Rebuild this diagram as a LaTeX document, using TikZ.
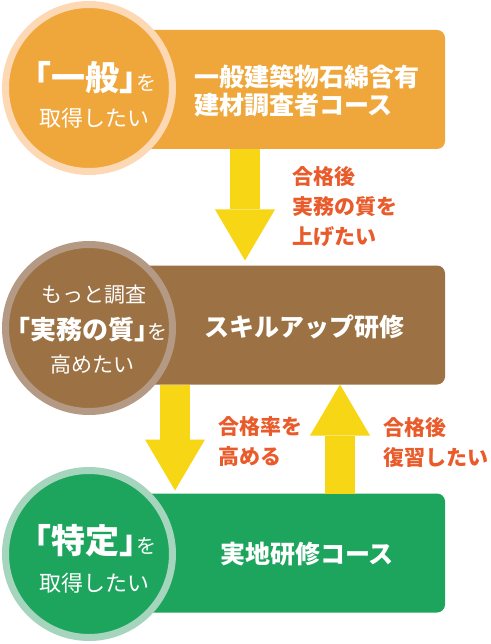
\documentclass[tikz,border=0pt]{standalone}
\usepackage{fontspec}
\setmainfont{Noto Sans CJK JP}
\usetikzlibrary{arrows.meta}
\definecolor{org}{HTML}{EFA73C}
\definecolor{peach}{HTML}{FDD8B5}
\definecolor{brn}{HTML}{9C7143}
\definecolor{brnring}{HTML}{B49A85}
\definecolor{grn}{HTML}{1DA55E}
\definecolor{grnring}{HTML}{A5D5BD}
\definecolor{yel}{HTML}{F7D615}
\definecolor{otxt}{HTML}{E95B2A}
\newcommand\bigjp[2]{{\fontsize{#1}{#1}\selectfont\bfseries\addfontfeatures{RawFeature=+halt}#2}}
\newcommand\wo{{\fontsize{20}{20}\selectfont を}}
\begin{document}
\begin{tikzpicture}[x=1pt,y=-1pt,
  box/.style={rounded corners=8pt, minimum width=315pt, minimum height=119pt, inner sep=0pt, outer sep=0pt},
  ring/.style={circle, minimum size=167pt, inner sep=0pt, outer sep=0pt, line width=7pt},
  bigarrow/.style={draw=yel, line width=30pt, -{Triangle[width=60pt,length=51pt,line width=0pt]}},
  btext/.style={text=white, font=\fontsize{25}{28.5}\selectfont\bfseries, align=left, inner sep=0pt},
  otext/.style={text=otxt, font=\fontsize{21}{30}\selectfont\bfseries, align=left, inner sep=0pt, anchor=west},
  ctext/.style={text=white, inner sep=0pt}]
\useasboundingbox (0,0) rectangle (490,644);
% boxes
\node[box, fill=org] (b1) at (287.5,89.5) {};
\node[box, fill=brn] (b2) at (287.5,325) {};
\node[box, fill=grn] (b3) at (287.5,553) {};
\node[btext, anchor=west] (t1) at (194,91) {一般建築物石綿含有\\建材調査者コース};
\node[btext] (t2) at (304,327) {スキルアップ研修};
\node[btext] (t3) at (307,554) {実地研修コース};
% arrows
\draw[bigarrow, shorten >=5pt] (b1.south -| 245,0) -- (b2.north -| 245,0);
\draw[bigarrow, shorten >=3pt] (b2.south -| 175,0) -- (b3.north -| 175,0);
\draw[bigarrow] (b3.north -| 340,0) -- (b2.south -| 340,0);
\node[otext] (o1) at (292,207) {合格後\\実務の質を\\上げたい};
\node[otext] (o2) at (218,442) {合格率を\\高める};
\node[otext] (o3) at (383,442) {合格後\\復習したい};
% circles
\node[ring, fill=org, draw=peach] (c1) at (89,88) {};
\node[ring, fill=brn, draw=brnring] (c2) at (89,328) {};
\node[ring, fill=grn, draw=grnring] (c3) at (89,554) {};
\node[ctext] (c1a) at (95,78) {\bigjp{34}{「一般」}\wo};
\node[ctext, font=\fontsize{22}{22}\selectfont] (c1b) at (94,118) {取得したい};
\node[ctext, font=\fontsize{21}{21}\selectfont] (c2a) at (93.5,295) {もっと調査};
\node[ctext] (c2b) at (92.5,330) {\bigjp{26}{「実務の質」}\wo};
\node[ctext, font=\fontsize{21}{21}\selectfont] (c2c) at (92.5,365) {高めたい};
\node[ctext] (c3a) at (95,541) {\bigjp{34}{「特定」}\wo};
\node[ctext, font=\fontsize{22}{22}\selectfont] (c3b) at (94.5,583) {取得したい};
\end{tikzpicture}
\end{document}
